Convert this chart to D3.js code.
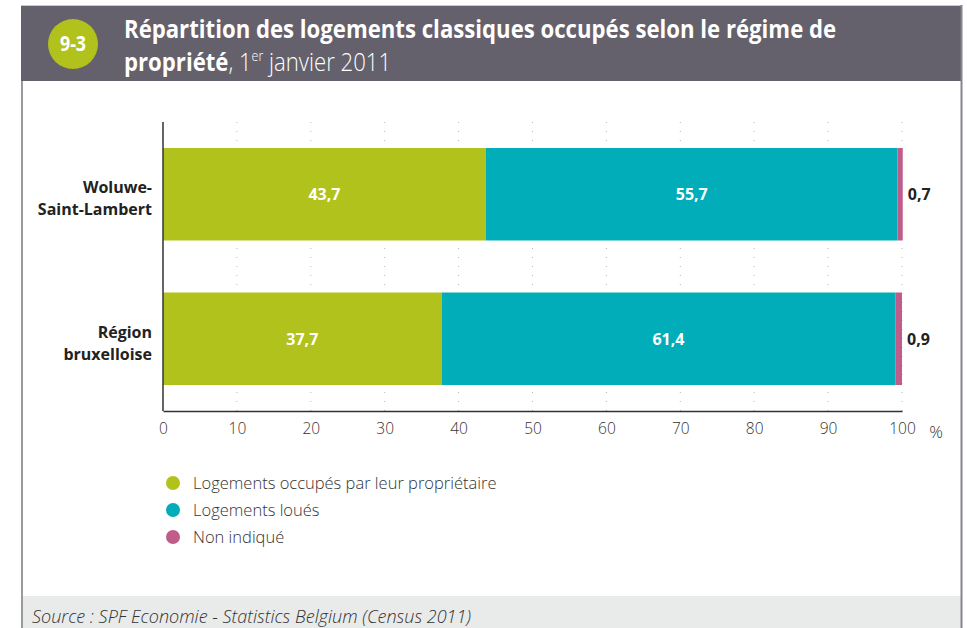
<!DOCTYPE html>
<html><head><meta charset="utf-8">
<script src="https://cdn.jsdelivr.net/npm/d3@7/dist/d3.min.js"></script>
<style>
body{margin:0;background:#fff;}
svg{display:block;}
</style></head>
<body>
<svg id="chart" width="967" height="628"></svg>
<script>
const categories = ["Woluwe-Saint-Lambert", "Région bruxelloise"];
const categoryLines = [["Woluwe-", "Saint-Lambert"], ["Région", "bruxelloise"]];
const seriesNames = ["Logements occupés par leur propriétaire", "Logements loués", "Non indiqué"];
const ownerValues = [43.7, 37.7];
const rentedValues = [55.7, 61.4];
const unknownValues = [0.7, 0.9];
const tickValues = [0, 10, 20, 30, 40, 50, 60, 70, 80, 90, 100];
const colors = ["#b2c21c", "#00adb9", "#bf5c8a"];

const svg = d3.select("#chart");
const font = "'Open Sans', 'Noto Sans', sans-serif";

// frame
svg.append("rect").attr("x", 21).attr("y", 5).attr("width", 941).attr("height", 76).attr("fill", "#64616c");
svg.append("line").attr("x1", 21).attr("x2", 962).attr("y1", 5.5).attr("y2", 5.5).attr("stroke", "#c9c8cc").attr("stroke-width", 1);
svg.append("rect").attr("x", 22).attr("y", 596).attr("width", 939).attr("height", 32).attr("fill", "#e9ebea");
svg.append("line").attr("x1", 22).attr("x2", 22).attr("y1", 81).attr("y2", 628).attr("stroke", "#9a99a0").attr("stroke-width", 2);
svg.append("line").attr("x1", 961.5).attr("x2", 961.5).attr("y1", 5).attr("y2", 628).attr("stroke", "#86848e").attr("stroke-width", 2);

// badge
svg.append("circle").attr("cx", 73).attr("cy", 44).attr("r", 25).attr("fill", "#b2c21c");
svg.append("text").attr("transform", "translate(73,51) scale(0.85,1)").attr("text-anchor", "middle").attr("fill", "#fff")
  .attr("font-family", font).attr("font-weight", "bold").attr("font-size", 21).text("9-3");

// title (condensed by horizontal scaling)
const tg = svg.append("g").attr("transform", "translate(124,0) scale(0.887,1)");
const t1 = tg.append("text").attr("x", 0).attr("y", 38).attr("fill", "#fff").attr("font-family", font).attr("font-size", 25);
t1.append("tspan").attr("font-weight", "bold").text("Répartition des logements classiques occupés selon le régime de");
const t2 = tg.append("text").attr("x", 0).attr("y", 71).attr("fill", "#fff").attr("font-family", font).attr("font-size", 25);
t2.append("tspan").attr("font-weight", "bold").text("propriété");
t2.append("tspan").attr("font-weight", 300).text(", 1");
t2.append("tspan").attr("font-weight", 300).attr("font-size", 14).attr("dy", -10).text("er");
t2.append("tspan").attr("font-weight", 300).attr("dy", 10).text(" janvier 2011");

// scales
const x = d3.scaleLinear().domain([0, 100]).range([163, 902]);
const y = d3.scaleBand().domain(categories).range([122, 411]).paddingInner(0.36).paddingOuter(0.18);

// dotted gridlines
const grid = svg.append("g");
grid.selectAll("line").data(tickValues.slice(1)).join("line")
  .attr("x1", d => x(d)).attr("x2", d => x(d)).attr("y1", 122).attr("y2", 411)
  .attr("stroke", "#b5b5b5").attr("stroke-width", 1).attr("stroke-dasharray", "1,8");

// stacked data
const rows = categories.map((c, i) => ({cat: c, v: [ownerValues[i], rentedValues[i], unknownValues[i]]}));
rows.forEach(r => {
  let acc = 0;
  r.segs = r.v.map((v, k) => { const s = {k, x0: acc, x1: acc + v, v, cat: r.cat}; acc += v; return s; });
});

const fmt = v => d3.format(".1f")(v).replace(".", ",");
const bars = svg.append("g");
rows.forEach(r => {
  bars.selectAll(null).data(r.segs).join("rect")
    .attr("x", d => x(d.x0)).attr("width", d => x(d.x1) - x(d.x0))
    .attr("y", y(r.cat)).attr("height", y.bandwidth())
    .attr("fill", d => colors[d.k]);
  bars.selectAll(null).data(r.segs.slice(0, 2)).join("text")
    .attr("x", d => (x(d.x0) + x(d.x1)) / 2).attr("y", y(r.cat) + y.bandwidth() / 2 + 6)
    .attr("text-anchor", "middle").attr("fill", "#fff").attr("font-family", font)
    .attr("font-weight", "bold").attr("font-size", 16).text(d => fmt(d.v));
  const last = r.segs[2];
  bars.append("text").attr("x", x(last.x1) + 5).attr("y", y(r.cat) + y.bandwidth() / 2 + 6)
    .attr("fill", "#222").attr("font-family", font).attr("font-weight", "bold").attr("font-size", 16)
    .text(fmt(last.v));
});

// axes
const xAxis = svg.append("g").attr("transform", "translate(0,411)")
  .call(d3.axisBottom(x).tickValues(tickValues).tickSize(0).tickPadding(12).tickFormat(d => d));
xAxis.select(".domain").attr("stroke", "#333").attr("stroke-width", 1.5);
xAxis.selectAll("text").attr("font-family", font).attr("font-size", 15.5).attr("font-weight", 300).attr("fill", "#333");
svg.append("text").attr("x", 936).attr("y", 438).attr("text-anchor", "middle").attr("font-family", font)
  .attr("font-size", 17).attr("font-weight", 300).attr("fill", "#333").text("%");

svg.append("line").attr("x1", 163).attr("x2", 163).attr("y1", 122).attr("y2", 411).attr("stroke", "#333").attr("stroke-width", 1.5);

// category labels
categories.forEach((c, i) => {
  const cy = y(c) + y.bandwidth() / 2;
  const tx = svg.append("text").attr("text-anchor", "end").attr("font-family", font)
    .attr("font-weight", "bold").attr("font-size", 16).attr("fill", "#222");
  categoryLines[i].forEach((ln, j) => {
    tx.append("tspan").attr("x", 152).attr("y", cy - 1 + j * 22).text(ln);
  });
});

// legend
const lg = svg.append("g");
seriesNames.forEach((s, i) => {
  const ly = 483 + i * 27;
  lg.append("circle").attr("cx", 173).attr("cy", ly).attr("r", 7).attr("fill", colors[i]);
  lg.append("text").attr("x", 193).attr("y", ly + 6).attr("font-family", font).attr("font-size", 16.5)
    .attr("font-weight", 300).attr("fill", "#333").text(s);
});

// source
svg.append("text").attr("x", 32).attr("y", 623).attr("font-family", font).attr("font-style", "italic")
  .attr("font-weight", 300).attr("font-size", 18).attr("fill", "#333").text("Source : SPF Economie - Statistics Belgium (Census 2011)");
</script>
</body></html>
